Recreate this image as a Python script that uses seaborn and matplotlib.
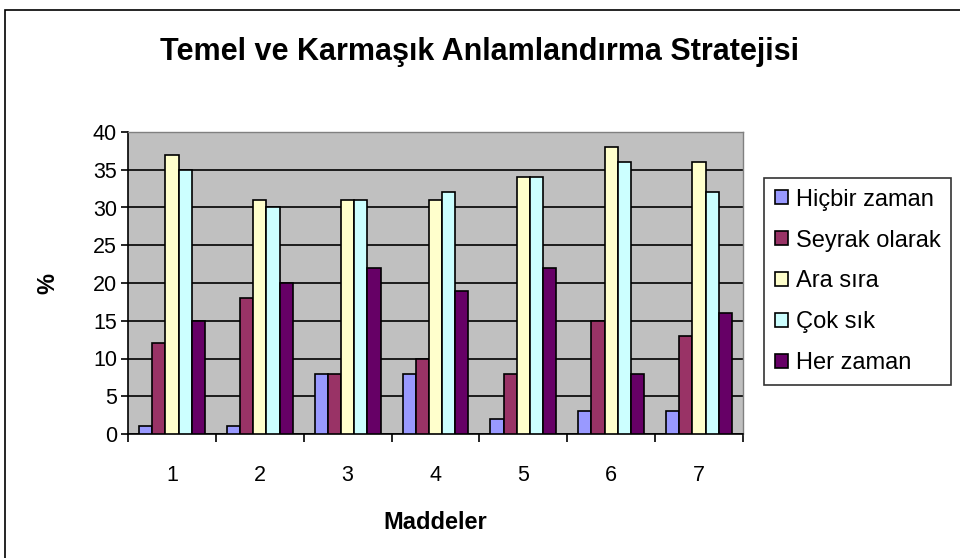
import pandas as pd
import numpy as np
import matplotlib
matplotlib.use('Agg')
import matplotlib.pyplot as plt
import seaborn as sns
from matplotlib.patches import Rectangle

# data
maddeler = ['1', '2', '3', '4', '5', '6', '7']
series = ['Hiçbir zaman', 'Seyrak olarak', 'Ara sıra', 'Çok sık', 'Her zaman']
hicbir = [1, 1, 8, 8, 2, 3, 3]
seyrak = [12, 18, 8, 10, 8, 15, 13]
ara_sira = [37, 31, 31, 31, 34, 38, 36]
cok_sik = [35, 30, 31, 32, 34, 36, 32]
her_zaman = [15, 20, 22, 19, 22, 8, 16]
colors = ['#9999FF', '#993366', '#FFFFCC', '#CCFFFF', '#660066']

rows = []
for name, vals in zip(series, [hicbir, seyrak, ara_sira, cok_sik, her_zaman]):
    for m, v in zip(maddeler, vals):
        rows.append({'Madde': m, 'Seri': name, 'Yuzde': v})
df = pd.DataFrame(rows)

sns.set_style('white')
plt.rcParams['font.family'] = ['Liberation Sans', 'DejaVu Sans']
for k in ['text.color', 'axes.labelcolor', 'xtick.color', 'ytick.color']:
    plt.rcParams[k] = 'black'

fig = plt.figure(figsize=(9.6, 5.58), dpi=100)
ax = fig.add_axes([128/960, 1-434/558, (743-128)/960, (434-132)/558])

sns.barplot(data=df, x='Madde', y='Yuzde', hue='Seri', palette=colors,
            width=0.75, edgecolor='black', linewidth=1.2, saturation=1,
            ax=ax, zorder=3)

ax.set_facecolor('#C0C0C0')
ax.set_ylim(0, 40)
ax.set_xlim(-0.5, 6.5)
ax.set_yticks(range(0, 41, 5))
ax.yaxis.grid(True, color='black', linewidth=1.2, zorder=0)
ax.set_axisbelow(True)
for s in ['top', 'right']:
    ax.spines[s].set_color('#808080')
    ax.spines[s].set_linewidth(1)
for s in ['left', 'bottom']:
    ax.spines[s].set_color('black')
    ax.spines[s].set_linewidth(1.2)

ax.tick_params(axis='y', length=5, width=1.2, direction='out', labelsize=15.5, left=True, pad=3)
ax.tick_params(axis='x', which='major', length=0, labelsize=15.5, pad=22)
ax.set_xticks(np.arange(-0.5, 7, 1), minor=True)
ax.tick_params(axis='x', which='minor', length=6, width=1.2, direction='out', bottom=True)

ax.set_xlabel('Maddeler', fontsize=17, fontweight='bold', labelpad=18)
ax.set_ylabel('%', fontsize=17, fontweight='bold', labelpad=24)

fig.text(0.5, 1-52/558, 'Temel ve Karmaşık Anlamlandırma Stratejisi',
         ha='center', va='center', fontsize=22, fontweight='bold')

leg = ax.legend(loc='upper left', bbox_to_anchor=(764/960, 1-178/558),
                bbox_transform=fig.transFigure, frameon=True, fontsize=17,
                handlelength=0.55, handleheight=0.55, handletextpad=0.35,
                labelspacing=0.8, borderpad=0.45, borderaxespad=0,
                fancybox=False, title=None)
leg.get_frame().set_edgecolor('black')
leg.get_frame().set_linewidth(1.2)

fig.patches.append(Rectangle((5/960, -0.05), 1.2, 1-10/558+0.05,
                             transform=fig.transFigure, fill=False,
                             edgecolor='black', linewidth=1.2))

fig.savefig('out.png', dpi=100)
